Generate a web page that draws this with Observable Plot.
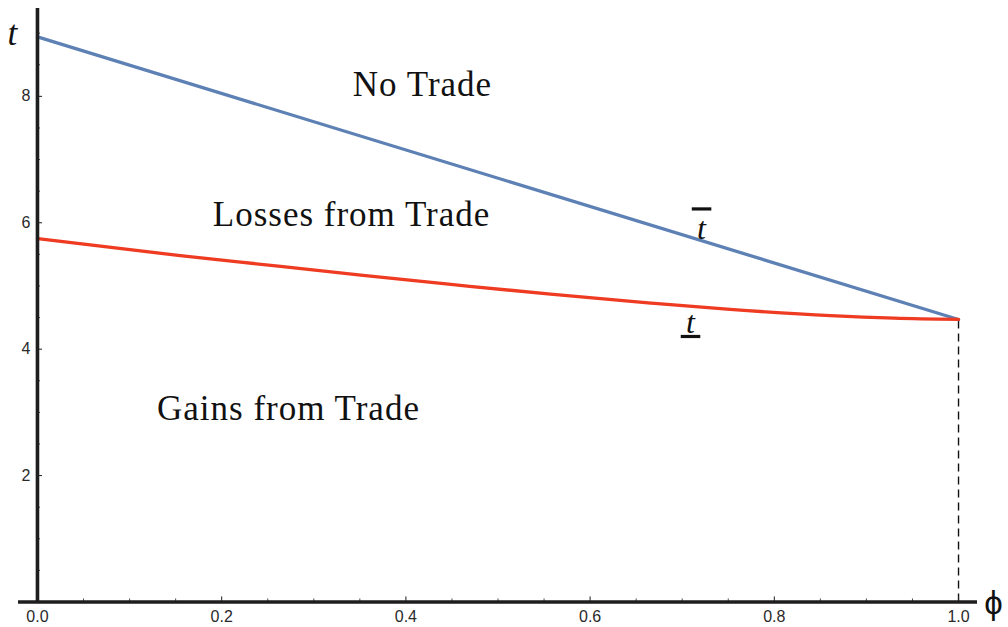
<!DOCTYPE html>
<html>
<head>
<meta charset="utf-8">
<script src="https://cdn.jsdelivr.net/npm/d3@7"></script>
<script src="https://cdn.jsdelivr.net/npm/@observablehq/plot@0.6"></script>
<style>
  html, body { margin: 0; padding: 0; background: #fff; }
</style>
</head>
<body>
<div id="chart"></div>
<script>
// ---- data ----
const phiUpper = [0, 1];
const tUpper = [8.94, 4.47];                 // upper threshold  t̄
const phiLower = [0, 0.155, 0.264, 0.351, 0.459, 0.557, 0.666, 0.752, 0.861, 0.93, 1.0];
const tLower  = [5.75, 5.48, 5.31, 5.17, 5.01, 4.87, 4.73, 4.63, 4.53, 4.49, 4.47]; // lower threshold t̲
const xMajorTicks = [0, 0.2, 0.4, 0.6, 0.8, 1.0];
const xMinorTicks = d3.range(0.05, 1.0001, 0.05).filter(v => Math.abs(v * 5 - Math.round(v * 5)) > 1e-6);
const yMajorTicks = [2, 4, 6, 8];
const yMinorTicks = d3.range(0.5, 9.01, 0.5).filter(v => v % 2 !== 0);
const xTickLabels = ["0.0", "0.2", "0.4", "0.6", "0.8", "1.0"];
const yTickLabels = ["2", "4", "6", "8"];
const regionNames = ["No Trade", "Losses from Trade", "Gains from Trade"];
const phiEnd = 1.0;
const tEnd = 4.47;

const upper = phiUpper.map((p, i) => ({phi: p, t: tUpper[i]}));
const lower = phiLower.map((p, i) => ({phi: p, t: tLower[i]}));

const serif = "Liberation Serif, Times New Roman, serif";
const sans = "Liberation Sans, Arial, Helvetica, sans-serif";
const axisColor = "#1e1e1e";
const tickLen = 0.0055, minorLen = 0.0033;   // in x units (for y ticks)
const tickLenY = 0.08, minorLenY = 0.048;    // in y units (for x ticks)

const chart = Plot.plot({
  width: 1008,
  height: 627,
  marginLeft: 18,
  marginRight: 31,
  marginTop: 8,
  marginBottom: 25.5,
  x: {domain: [-0.0206, 1.0206], axis: null},
  y: {domain: [0, 9.39], axis: null},
  style: {background: "white", overflow: "visible"},
  marks: [
    // dashed drop line at phi = 1
    Plot.ruleX([phiEnd], {y1: 0, y2: tEnd, stroke: "#111", strokeWidth: 1.4, strokeDasharray: "8,5"}),
    // curves
    Plot.line(upper, {x: "phi", y: "t", stroke: "#5E81B5", strokeWidth: 3.3}),
    Plot.line(lower, {x: "phi", y: "t", stroke: "#EE3B22", strokeWidth: 3.3, curve: "monotone-x"}),
    // y ticks (inside)
    Plot.ruleY(yMajorTicks, {x1: 0, x2: tickLen, stroke: axisColor, strokeWidth: 1}),
    Plot.ruleY(yMinorTicks, {x1: 0, x2: minorLen, stroke: axisColor, strokeWidth: 0.8}),
    // x ticks (inside)
    Plot.ruleX(xMajorTicks, {y1: 0, y2: tickLenY, stroke: axisColor, strokeWidth: 1}),
    Plot.ruleX(xMinorTicks, {y1: 0, y2: minorLenY, stroke: axisColor, strokeWidth: 0.8}),
    // axes lines
    Plot.ruleY([0], {stroke: axisColor, strokeWidth: 3.6}),
    Plot.ruleX([0], {y1: 0, y2: 9.39, stroke: axisColor, strokeWidth: 3.6}),
    // tick labels
    Plot.text(xMajorTicks, {x: d => d, y: 0, text: (d, i) => xTickLabels[i], dy: 15, fontFamily: sans, fontSize: 16, fill: "#2a2a2a"}),
    Plot.text(yMajorTicks, {x: 0, y: d => d, text: (d, i) => yTickLabels[i], dx: -7, textAnchor: "end", fontFamily: sans, fontSize: 16, fill: "#2a2a2a"}),
    // axis labels
    Plot.text(["t"], {x: 0, y: 9.39, dx: -25, dy: 25, fontFamily: serif, fontStyle: "italic", fontSize: 35, fill: "#111"}),
    Plot.text(["\u03D5"], {x: 1.0206, y: 0, dx: 16, dy: 1, fontFamily: sans, fontSize: 33, fill: "#111"}),
    // region labels
    Plot.text([regionNames[0]], {x: 0.418, y: 8.19, fontFamily: serif, fontSize: 35, fill: "#111"}),
    Plot.text([regionNames[1]], {x: 0.341, y: 6.12, fontFamily: serif, fontSize: 35, fill: "#111"}),
    Plot.text([regionNames[2]], {x: 0.2725, y: 3.06, fontFamily: serif, fontSize: 35, fill: "#111"}),
    // curve labels
    Plot.text(["\u2006t\u0305\u2006"], {x: 0.721, y: 5.9, fontFamily: serif, fontStyle: "italic", fontSize: 32, fill: "#111"}),
    Plot.text(["\u2006t\u0332\u2006"], {x: 0.709, y: 4.42, fontFamily: serif, fontStyle: "italic", fontSize: 32, fill: "#111"})
  ]
});

d3.select(chart).selectAll("text").each(function () {
  const s = this.textContent;
  if (s.includes("\u0305")) {
    this.textContent = s.replace("\u0305", "");
    this.style.textDecoration = "overline";
    this.style.textDecorationThickness = "1.6px";
  } else if (s.includes("\u0332")) {
    this.textContent = s.replace("\u0332", "");
    this.style.textDecoration = "underline";
    this.style.textDecorationThickness = "1.6px";
  }
  if (["No Trade", "Losses from Trade", "Gains from Trade"].includes(this.textContent)) {
    this.style.letterSpacing = "1px";
  }
  this.setAttribute("xml:space", "preserve");
  this.style.whiteSpace = "pre";
});

document.getElementById("chart").appendChild(chart);
</script>
</body>
</html>
